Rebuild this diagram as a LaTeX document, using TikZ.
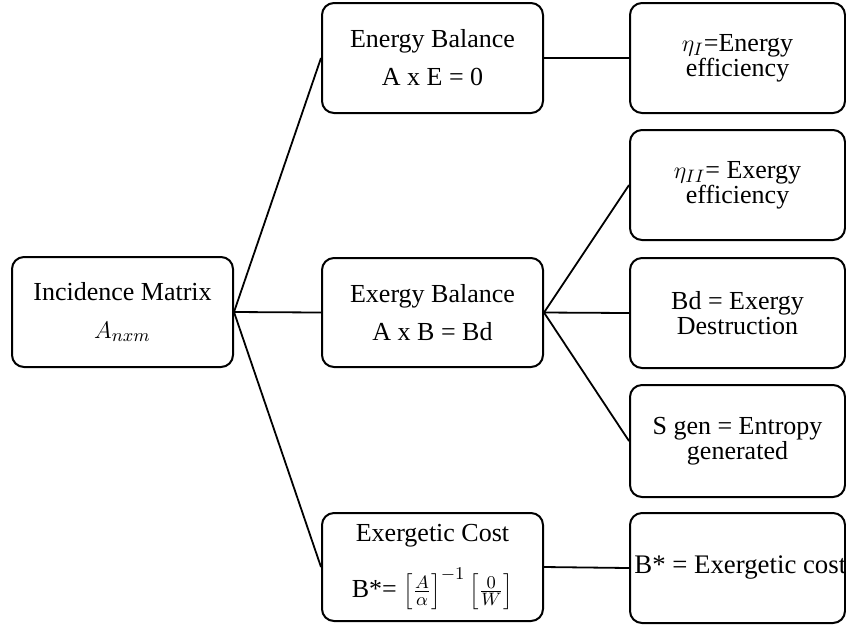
\documentclass[tikz,border=0pt]{standalone}
\usepackage{fontspec}
\setmainfont{Liberation Serif}
\begin{document}
\begin{tikzpicture}[x=0.5pt,y=-0.5pt,
  box/.style={draw=black,line width=1pt,rounded corners=6pt,inner sep=0pt,
    minimum width=110.5pt,minimum height=55pt,align=center,
    font=\fontsize{13}{19}\selectfont},
  rbox/.style={box,minimum width=107.5pt,font=\fontsize{13}{12.5}\selectfont},
  link/.style={draw=black,line width=0.9pt}]
\useasboundingbox (0,0) rectangle (846,629);
\node[box] (inc) at (122.5,312) {Incidence Matrix\\$A_{nxm}$};
\node[box] (eb) at (432.5,58) {Energy Balance\\A x E = 0};
\node[box,minimum height=54.5pt] (xb) at (432.5,312.5) {Exergy Balance\\A x B = Bd};
\node[box,minimum height=54pt] (ec) at (432.5,567) {Exergetic Cost\\[9pt]B*= $\left[\frac{A}{\alpha}\right]^{-1}\left[\frac{0}{W}\right]$};
\node[rbox] (r1) at (737.5,58) {$\eta_{I}$=Energy\\efficiency};
\node[rbox] (r2) at (737.5,185) {$\eta_{II}$= Exergy\\efficiency};
\node[rbox] (r3) at (737.5,313) {Bd = Exergy\\Destruction};
\node[rbox,minimum height=56pt] (r4) at (737.5,441) {S gen = Entropy\\generated};
\node[rbox] (r5) at (737.5,568) {};
\node[anchor=west,inner sep=0pt,font=\fontsize{13.4}{15}\selectfont] (r5t) at (634,568) {B* = Exergetic cost};
\draw[link] (inc.east) -- (eb.west);
\draw[link] (inc.east) -- (xb.west);
\draw[link] (inc.east) -- (ec.west);
\draw[link] (eb.east) -- (r1.west);
\draw[link] (xb.east) -- (r2.west);
\draw[link] (xb.east) -- (r3.west);
\draw[link] (xb.east) -- (r4.west);
\draw[link] (ec.east) -- (r5.west);
\end{tikzpicture}
\end{document}
